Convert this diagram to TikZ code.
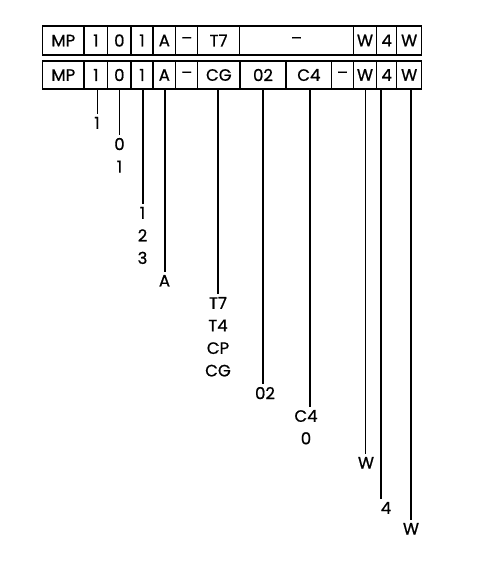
\documentclass[tikz,border=0pt]{standalone}
\usepackage{fontspec}
\setmainfont{Poppins}[FakeBold=0.8,UprightFont=*,BoldFont=*]
\begin{document}
\begin{tikzpicture}[x=1pt,y=-1pt,
  cellbox/.style={draw, line width=1.4pt, inner sep=0pt, font=\bfseries\fontsize{16.5}{18}\selectfont},
  lab/.style={anchor=north, inner sep=0pt, outer sep=3pt, align=center, font=\bfseries\fontsize{16.5}{22.5}\selectfont},
  conn/.style={line width=1.6pt}]
\useasboundingbox (0,0) rectangle (489,562);
% top row
\node[cellbox, minimum width=41.3pt, minimum height=29pt] (tMP) at (63.35,40.5) {MP};
\node[cellbox, minimum width=23.7pt, minimum height=29pt] (t1) at (95.85,40.5) {1};
\node[cellbox, minimum width=23.3pt, minimum height=29pt] (t0) at (119.35,40.5) {0};
\node[cellbox, minimum width=22pt, minimum height=29pt] (t1b) at (142,40.5) {1};
\node[cellbox, minimum width=22.7pt, minimum height=29pt] (tA) at (164.35,40.5) {A};
\node[cellbox, minimum width=22pt, minimum height=29pt] (tD) at (186.7,40.5) {–};
\node[cellbox, minimum width=41.8pt, minimum height=29pt] (tT7) at (218.6,40.5) {T7};
\node[cellbox, minimum width=113.8pt, minimum height=29pt] (tD2) at (296.4,40.5) {–};
\node[cellbox, minimum width=23.4pt, minimum height=29pt] (tW) at (365,40.5) {W};
\node[cellbox, minimum width=20pt, minimum height=29pt] (t4) at (386.7,40.5) {4};
\node[cellbox, minimum width=25pt, minimum height=29pt] (tW2) at (409.2,40.5) {W};
% bottom row
\node[cellbox, minimum width=41.3pt, minimum height=28pt] (bMP) at (63.35,75) {MP};
\node[cellbox, minimum width=23.7pt, minimum height=28pt] (b1) at (95.85,75) {1};
\node[cellbox, minimum width=23.3pt, minimum height=28pt] (b0) at (119.35,75) {0};
\node[cellbox, minimum width=22pt, minimum height=28pt] (b1b) at (142,75) {1};
\node[cellbox, minimum width=22.7pt, minimum height=28pt] (bA) at (164.35,75) {A};
\node[cellbox, minimum width=22pt, minimum height=28pt] (bD) at (186.7,75) {–};
\node[cellbox, minimum width=42.3pt, minimum height=28pt] (bCG) at (218.85,75) {CG};
\node[cellbox, minimum width=46pt, minimum height=28pt] (b02) at (263,75) {02};
\node[cellbox, minimum width=45.7pt, minimum height=28pt] (bC4) at (308.85,75) {C4};
\node[cellbox, minimum width=21.6pt, minimum height=28pt] (bD2) at (342.5,75) {–};
\node[cellbox, minimum width=23.4pt, minimum height=28pt] (bW) at (365,75) {W};
\node[cellbox, minimum width=20pt, minimum height=28pt] (b4) at (386.7,75) {4};
\node[cellbox, minimum width=25pt, minimum height=28pt] (bW2) at (409.2,75) {W};
% labels
\node[lab] (l1) at (97,114) {1};
\node[lab] (l2) at (119.5,135) {0\\1};
\node[lab] (l3) at (142.5,204) {1\\2\\3};
\node[lab] (lA) at (164.5,272) {A};
\node[lab] (lT) at (218,294) {T7\\T4\\CP\\CG};
\node[lab] (l02) at (265,384) {02};
\node[lab] (lC) at (306,407) {C4\\0};
\node[lab] (lW) at (366,454) {W};
\node[lab] (l4) at (386,499) {4};
\node[lab] (lW2) at (411,520) {W};
% connectors
\draw[conn] ([xshift=1.5pt]b1.south) -- ([xshift=1.5pt]b1.south |- l1.north);
\draw[conn] (b0.south) -- (b0.south |- l2.north);
\draw[conn] ([xshift=1pt]b1b.south) -- ([xshift=1pt]b1b.south |- l3.north);
\draw[conn] ([xshift=0.5pt]bA.south) -- ([xshift=0.5pt]bA.south |- lA.north);
\draw[conn] ([xshift=-1pt]bCG.south) -- ([xshift=-1pt]bCG.south |- lT.north);
\draw[conn] (b02.south) -- (b02.south |- l02.north);
\draw[conn] ([xshift=1pt]bC4.south) -- ([xshift=1pt]bC4.south |- lC.north);
\draw[conn] ([xshift=0.5pt]bW.south) -- ([xshift=0.5pt]bW.south |- lW.north);
\draw[conn] ([xshift=-6pt]b4.south) -- ([xshift=-6pt]b4.south |- l4.north);
\draw[conn] ([xshift=1.5pt]bW2.south) -- ([xshift=1.5pt]bW2.south |- lW2.north);
\end{tikzpicture}
\end{document}
